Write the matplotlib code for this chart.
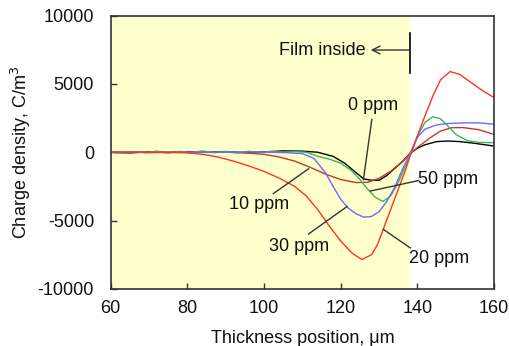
import matplotlib
matplotlib.use("Agg")
import matplotlib.pyplot as plt

plt.rcParams['font.family'] = ['Liberation Sans', 'DejaVu Sans']
plt.rcParams['axes.unicode_minus'] = False

# 0 ppm (black)
x_0 = [60, 65, 70, 75, 80, 85, 90, 95, 100, 105, 110, 114, 118, 121, 124, 126, 128, 130,
       132, 134, 136, 138, 140, 142, 145, 148, 151, 155, 160]
y_0 = [0, -50, 30, -30, 50, 0, 30, -20, 20, 100, 80, 0, -300, -800, -1500, -1950, -2050, -2050,
       -1700, -1200, -700, -100, 300, 550, 780, 820, 780, 650, 450]

# 10 ppm (dark red)
x_10 = [60, 65, 70, 80, 90, 95, 100, 104, 108, 112, 116, 120, 124, 127, 130, 133, 136, 138,
        140, 143, 146, 149, 152, 156, 160]
y_10 = [0, 0, -20, 0, 0, -50, -150, -350, -650, -1100, -1600, -2000, -2220, -2200, -1900, -1400,
        -700, -150, 350, 1000, 1550, 1800, 1800, 1650, 1300]

# 20 ppm (red)
x_20 = [60, 65, 70, 75, 80, 84, 88, 92, 96, 100, 104, 108, 111, 114, 117, 120, 123, 125.5,
        128, 129.5, 131, 133, 135, 137, 138, 140, 142, 144, 146, 148.5, 151, 154, 157, 160]
y_20 = [0, 0, 0, 0, -50, -150, -350, -650, -1000, -1400, -1900, -2500, -3200, -4200, -5400,
        -6500, -7400, -7850, -7500, -6800, -5700, -4200, -2700, -1200, -300, 1200, 2700, 4100,
        5300, 5900, 5700, 5100, 4500, 4000]

# 30 ppm (blue)
x_30 = [60, 65, 70, 75, 80, 85, 90, 95, 100, 105, 110, 113, 116, 118, 120, 122, 124, 126, 128,
        130, 132, 134, 136, 138, 140, 142, 145, 148, 152, 156, 160]
y_30 = [0, 30, -20, 0, 20, -10, 0, 20, 0, -20, -100, -450, -1500, -2500, -3450, -4100, -4500,
        -4750, -4700, -4350, -3600, -2600, -1300, -100, 1100, 1700, 2000, 2100, 2150, 2150, 2050]

# 50 ppm (green)
x_50 = [60, 63, 66, 69, 72, 75, 78, 81, 84, 87, 90, 93, 96, 99, 102, 105, 108, 111, 114, 117,
        120, 123, 125, 127, 129, 131, 133, 135, 137, 138.5, 140, 142, 144, 146, 148, 150, 153,
        156, 160]
y_50 = [0, -80, 60, -40, 80, -30, 60, -20, 100, -40, 60, -50, 70, -20, 60, 0, 50, 0, -300, -500,
        -800, -1400, -2000, -2700, -3300, -3600, -3200, -2200, -900, 0, 1200, 2200, 2600, 2450,
        1900, 1300, 850, 720, 700]

labels = ['0 ppm', '10 ppm', '20 ppm', '30 ppm', '50 ppm']
label_xy = [(128.5, 3400), (98.7, -3800), (145.6, -7750), (109.1, -6900), (148.1, -2000)]
leader_from = [(128.1, 2400), (102.4, -3030), (138.1, -7000), (111.6, -5980), (140.3, -2070)]
leader_to = [(125.9, -2000), (111.6, -1210), (131.1, -5640), (121.6, -3980), (127.7, -2840)]

fig = plt.figure(figsize=(5.1, 3.46), dpi=100)
ax = fig.add_axes([0.217, 0.165, 0.752, 0.79])

ax.axvspan(60, 138, color='#ffffcc', zorder=0, lw=0)

ax.plot(x_0, y_0, color='black', lw=1.0)
ax.plot(x_10, y_10, color='#c0392b', lw=1.0)
ax.plot(x_50, y_50, color='#33b85a', lw=1.0)
ax.plot(x_30, y_30, color='#6b6bff', lw=1.0)
ax.plot(x_20, y_20, color='#ff3322', lw=1.0)

for lab, (tx, ty), (fx, fy), (ex, ey) in zip(labels, label_xy, leader_from, leader_to):
    ax.plot([fx, ex], [fy, ey], color='#333333', lw=1.0)
    ax.text(tx, ty, lab, fontsize=13, ha='center', va='center', color='#111111')

# film boundary marker
ax.plot([138, 138], [5800, 8700], color='black', lw=1.2)
ax.annotate('', xy=(127.8, 7480), xytext=(138, 7480),
            arrowprops=dict(arrowstyle='->', color='#333333', lw=1.0, mutation_scale=14,
                            shrinkA=0, shrinkB=0))
ax.text(126.5, 7480, 'Film inside', fontsize=13, ha='right', va='center', color='#111111')

ax.set_xlim(60, 160)
ax.set_ylim(-10000, 10000)
ax.set_xticks([60, 80, 100, 120, 140, 160])
ax.set_yticks([-10000, -5000, 0, 5000, 10000])
ax.tick_params(direction='in', length=4, width=1, labelsize=13, pad=8, colors='#333333',
               labelcolor='#111111')
ax.tick_params(axis='y', pad=12)
for s in ax.spines.values():
    s.set_color('#333333')
    s.set_linewidth(1.2)

ax.set_xlabel('Thickness position, \u03bcm', fontsize=13, labelpad=9, color='#111111')
ax.set_ylabel('Charge density, C/m$^3$', fontsize=13, labelpad=3, color='#111111')

fig.savefig('out.png', dpi=100)
